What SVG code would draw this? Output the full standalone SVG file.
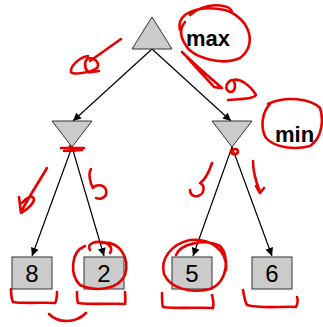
<svg xmlns="http://www.w3.org/2000/svg" width="323" height="327" viewBox="0 0 323 327">
<defs>
<style>
.n{fill:#cbcbcb;stroke:#333;stroke-width:1}
.e{stroke:#000;stroke-width:1.2;fill:none}
.lbl{font-family:"Liberation Sans",Arial,sans-serif;font-weight:bold;font-size:22px;fill:#000}
.num{font-family:"Liberation Sans",Arial,sans-serif;font-size:24px;fill:#000;text-anchor:middle}
.ink{stroke:#e60000;stroke-width:2.6;fill:none;stroke-linecap:round;stroke-linejoin:round}
</style>
<marker id="ah" viewBox="0 0 10 10" refX="10" refY="5" markerWidth="9" markerHeight="8" markerUnits="userSpaceOnUse" orient="auto">
<path d="M0,0 L10,5 L0,10 z" fill="#000"/>
</marker>
</defs>
<rect width="323" height="327" fill="#fff"/>
<g id="connectors">
<line class="e" x1="152" y1="49" x2="73" y2="121" marker-end="url(#ah)"/>
<line class="e" x1="152" y1="49" x2="231" y2="121" marker-end="url(#ah)"/>
<line class="e" x1="72" y1="147" x2="32" y2="256" marker-end="url(#ah)"/>
<line class="e" x1="72" y1="147" x2="104" y2="256" marker-end="url(#ah)"/>
<line class="e" x1="232" y1="147" x2="193" y2="256" marker-end="url(#ah)"/>
<line class="e" x1="232" y1="147" x2="272" y2="256" marker-end="url(#ah)"/>
</g>
<g id="root"><polygon class="n" points="152,17 172,49 132,49"/></g>
<g id="maxlabel"><text class="lbl" x="186" y="46">max</text></g>
<g id="minL"><polygon class="n" points="52,121 92,121 72,147"/></g>
<g id="minR"><polygon class="n" points="212,121 252,121 232,147"/></g>
<g id="minlabel"><text class="lbl" x="275" y="142">min</text></g>
<g id="leaf8"><rect class="n" x="12" y="257" width="40" height="32"/><text class="num" x="32" y="282">8</text></g>
<g id="leaf2"><rect class="n" x="84" y="257" width="40" height="32"/><text class="num" x="104" y="282">2</text></g>
<g id="leaf5"><rect class="n" x="172" y="257" width="40" height="32"/><text class="num" x="192" y="282">5</text></g>
<g id="leaf6"><rect class="n" x="252" y="257" width="40" height="32"/><text class="num" x="272" y="282">6</text></g>
<g id="annotations">
<path class="ink" d="M121,39 L90,61"/>
<path class="ink" d="M88,56 C80,57 70,66 71,72 C73,75 90,73 97,68 C100,64 96,58 89,58 C84,60 84,68 88,72 C92,73 96,71 99,71"/>
<path class="ink" d="M190,15 C205,2 230,3 232,12 M180,30 C176,12 200,5 225,10 C250,18 258,45 240,58 C222,66 192,58 185,44 C180,36 180,28 185,22"/>
<path class="ink" d="M182,52 C195,65 208,76 222,88 M186,56 C196,68 206,78 214,87 L220,88"/>
<path class="ink" d="M232,80 C226,82 224,90 230,92 C236,92 236,84 233,80 C240,78 250,85 256,95 C254,99 240,99 228,100"/>
<path class="ink" d="M268,104 C285,96 310,98 320,108 C324,120 322,138 310,146 C295,150 275,148 266,138 C260,128 262,112 270,104"/>
<path class="ink" d="M61,148 L84,148 M64,151 L82,150 M70,146 C72,152 76,152 78,148"/>
<path class="ink" d="M231,152 C232,148 238,148 238,152 C237,155 232,155 231,152"/>
<path class="ink" d="M47,168 C40,180 30,195 21,212 M19,197 C20,203 20,208 21,213 C26,210 32,206 34,200 C34,195 28,196 22,203"/>
<path class="ink" d="M91,169 C88,173 90,183 93,188 C96,184 104,184 106,190 C108,197 101,200 96,198"/>
<path class="ink" d="M212,163 C209,172 205,180 200,183 C205,185 205,194 198,196 C194,197 190,195 190,190"/>
<path class="ink" d="M253,161 C253,170 256,182 260,192 M256,186 L260,193 L264,188"/>
<path class="ink" d="M90,250 C86,244 95,240 106,243 C112,246 112,250 110,253 M100,243 C120,240 130,258 125,275 C118,290 95,292 80,285 C70,275 70,252 85,246"/>
<path class="ink" d="M176,255 C180,244 205,238 220,246 C230,256 228,282 210,289 C190,294 170,288 164,274 C160,258 172,244 190,240 C210,238 228,250 226,270"/>
<path class="ink" d="M11,289 C11,296 12,300 13,302 C25,304 45,302 55,303 C57,300 57,295 57,292"/>
<path class="ink" d="M77,292 C77,296 77,300 78,303 C95,305 112,303 125,304 C126,300 125,296 125,292"/>
<path class="ink" d="M162,293 C162,300 162,304 163,307 C180,309 198,307 213,308 C214,304 213,299 212,295"/>
<path class="ink" d="M243,290 C244,296 245,302 247,305 C262,309 282,306 296,307 C298,303 298,300 297,297"/>
<path class="ink" d="M49,314 C58,323 75,324 86,313"/>
</g>
</svg>
